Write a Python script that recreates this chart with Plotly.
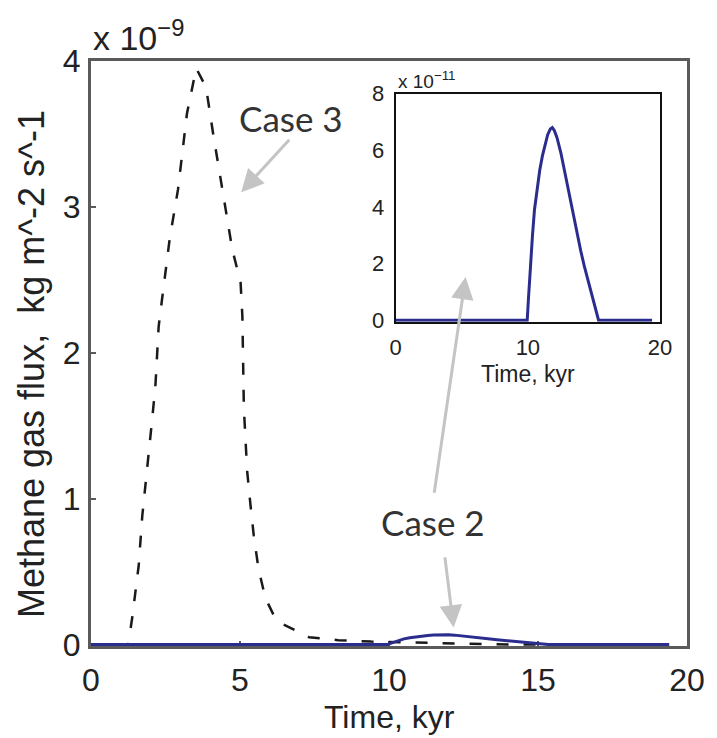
import plotly.graph_objects as go

# ---- data ----
# Case 3: dashed black curve, flux in units of 1e-9 kg m^-2 s^-1
time_case3_kyr = [0, 1.25, 1.38, 1.6, 1.72, 1.94, 2.05, 2.16, 2.27, 2.38, 2.64, 2.92,
                  3.22, 3.53, 3.86, 4.1, 4.41, 4.74, 5.02, 5.08, 5.13, 5.19, 5.24,
                  5.35, 5.46, 5.62, 5.85, 6.18, 6.43, 7.32, 8.3, 9.4, 10.5, 12.0,
                  13.0, 14.0, 19.4]
flux_case3_e9 = [0, 0, 0.18, 0.54, 0.88, 1.29, 1.54, 1.77, 2.18, 2.36, 2.78, 3.12,
                 3.64, 3.95, 3.82, 3.5, 3.12, 2.71, 2.48, 2.25, 1.62, 1.39, 1.19,
                 0.96, 0.75, 0.52, 0.32, 0.18, 0.14, 0.05, 0.03, 0.02, 0.015, 0.01,
                 0.008, 0, 0]

# Case 2: solid blue curve, flux in units of 1e-11 kg m^-2 s^-1
time_case2_kyr = [0, 9.95, 10.05, 10.2, 10.35, 10.5, 10.7, 10.9, 11.1, 11.3, 11.5,
                  11.7, 11.85, 12.0, 12.2, 12.5, 12.8, 13.1, 13.4, 13.7, 14.0, 14.3,
                  14.6, 14.9, 15.1, 15.25, 15.35, 19.4]
flux_case2_e11 = [0, 0, 0.8, 2.0, 3.0, 3.9, 4.7, 5.3, 5.8, 6.2, 6.55,
                  6.75, 6.8, 6.7, 6.45, 5.9, 5.2, 4.5, 3.8, 3.1, 2.45, 1.85,
                  1.3, 0.75, 0.4, 0.12, 0, 0]

main_xticks = [0, 5, 10, 15, 20]
main_yticks = [0, 1, 2, 3, 4]
inset_xticks = [0, 10, 20]
inset_yticks = [0, 2, 4, 6, 8]

# Case 2 expressed in the main axis units (1e-9)
flux_case2_e9 = [v * 0.01 for v in flux_case2_e11]

FONT = "Liberation Sans, Arial, sans-serif"
LABEL_FONT = "Lato, Open Sans, sans-serif"
BLUE = "#2b2d8e"
ARROW = "#c4c4c4"

fig = go.Figure()

fig.add_trace(go.Scatter(
    x=time_case3_kyr, y=flux_case3_e9, mode="lines",
    line=dict(color="#1a1a1a", width=2.5, dash="12px,15px"),
    xaxis="x", yaxis="y", showlegend=False))
fig.add_trace(go.Scatter(
    x=time_case2_kyr, y=flux_case2_e9, mode="lines",
    line=dict(color=BLUE, width=3),
    xaxis="x", yaxis="y", showlegend=False))
fig.add_trace(go.Scatter(
    x=time_case2_kyr, y=flux_case2_e11, mode="lines",
    line=dict(color=BLUE, width=3),
    xaxis="x2", yaxis="y2", showlegend=False))

main_axis = dict(showgrid=False, zeroline=False, showline=True, linecolor="#5a5a5a",
                 linewidth=3, mirror=True, ticks="inside", ticklen=5, tickwidth=1.5,
                 tickcolor="#5a5a5a", tickfont=dict(family=FONT, size=32, color="#222"),
                 layer="below traces")
inset_axis = dict(showgrid=False, zeroline=False, showline=True, linecolor="#111",
                  linewidth=2, mirror=True, ticks="",
                  tickfont=dict(family=FONT, size=22, color="#222"),
                  layer="below traces")

fig.update_layout(
    width=717, height=738,
    margin=dict(l=91, r=23, t=61, b=92),
    paper_bgcolor="white", plot_bgcolor="white",
    xaxis=dict(main_axis, range=[0, 20], tickvals=main_xticks, ticklabelstandoff=4,
               domain=[0, 1]),
    yaxis=dict(main_axis, range=[-0.01, 4], tickvals=main_yticks, ticklabelstandoff=1,
               domain=[0, 1]),
    xaxis2=dict(inset_axis, range=[0, 20], tickvals=inset_xticks, ticklabelstandoff=5,
                domain=[0.5113, 0.9547], anchor="y2"),
    yaxis2=dict(inset_axis, range=[-0.06, 8], tickvals=inset_yticks, ticklabelstandoff=5,
                domain=[0.5541, 0.9443], anchor="x2"),
)

ann = []
# main axis titles
ann.append(dict(text="Time, kyr", xref="paper", yref="paper", x=0.5, y=-0.121,
                xanchor="center", yanchor="middle", showarrow=False,
                font=dict(family=FONT, size=32, color="#222")))
ann.append(dict(text="Methane gas flux, \u00a0kg m^-2 s^-1", xref="paper", yref="paper",
                x=0, xshift=-60, y=0.482, xanchor="center", yanchor="middle",
                textangle=-90, showarrow=False,
                font=dict(family=FONT, size=36, color="#222")))
# exponent labels
ann.append(dict(text="x 10<sup>\u22129</sup>",
                xref="paper", yref="paper", x=0, y=1, xshift=0, yshift=2,
                xanchor="left", yanchor="bottom", showarrow=False,
                font=dict(family=FONT, size=34, color="#222")))
ann.append(dict(text="x 10<sup>\u221211</sup>", xref="paper", yref="paper",
                x=0.5113, y=0.9443, yshift=0, xanchor="left", yanchor="bottom",
                showarrow=False, font=dict(family=FONT, size=19, color="#222")))
# inset x title
ann.append(dict(text="Time, kyr", xref="paper", yref="paper", x=(0.5113 + 0.9547) / 2,
                y=0.5541, yshift=-52, xanchor="center", yanchor="middle",
                showarrow=False, font=dict(family=FONT, size=23, color="#222")))
# case labels
ann.append(dict(text="Case 3", xref="x", yref="y", x=6.70, y=3.61,
                xanchor="center", yanchor="middle", showarrow=False,
                font=dict(family=LABEL_FONT, size=35, color="#333")))
ann.append(dict(text="Case 2", xref="x", yref="y", x=11.49, y=0.84,
                xanchor="center", yanchor="middle", showarrow=False,
                font=dict(family=LABEL_FONT, size=35, color="#333")))
# arrows
arrow_style = dict(showarrow=True, arrowhead=2, arrowsize=1.5, arrowwidth=3,
                   arrowcolor=ARROW, text="", axref="x", ayref="y",
                   xref="x", yref="y", standoff=0, startstandoff=0)
ann.append(dict(arrow_style, x=5.04, y=3.10, ax=6.70, ay=3.47))
ann.append(dict(arrow_style, x=12.17, y=0.116, ax=11.87, ay=0.608))
ann.append(dict(arrow_style, x=12.57, y=2.52, ax=11.51, ay=1.03))

fig.update_layout(annotations=ann)

fig.write_html("out.html")
